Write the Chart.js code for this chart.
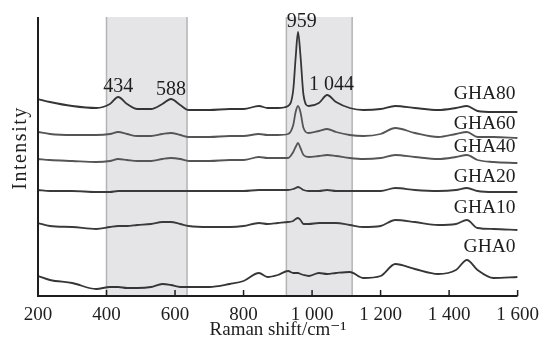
<!DOCTYPE html>
<html>
<head>
<meta charset="utf-8">
<script src="https://cdn.jsdelivr.net/npm/chart.js@4.4.1/dist/chart.umd.min.js"></script>
<style>
  html, body { margin: 0; padding: 0; background: #fff; }
  #wrap { width: 547px; height: 345px; }
</style>
</head>
<body>
<div id="wrap"><canvas id="raman"></canvas></div>
<script>
// Raman shift (cm-1)
var shifts = [200, 235, 300, 370, 410, 434, 460, 490, 530, 563, 588, 615, 640, 700, 760, 800, 845, 870, 900, 930,
              945, 952, 959, 966, 975, 990, 1020, 1044, 1070, 1110, 1150, 1200, 1243, 1300, 1368, 1420, 1452, 1483, 1530, 1600];

// intensités décalées (u.a.)
var gha80 = [197,194,190,188,192,199,192,187,187,192,197,191,186,186,187,187,190,188,188,190,
             206,238,264,241,201,190,193,201,194,188,186,187,190,188,186,188,190,185,184,184];
var gha60 = [164,162,161,161,162,164,162,160,160,162,163,161,159,159,160,160,162,161,161,162,
             171,184,190,184,168,163,165,167,164,161,160,162,168,163,159,162,164,159,159,158];
var gha40 = [137,136,135,134,135,137,136,135,135,137,138,137,135,135,136,136,139,138,138,138,
             144,149,153,148,141,139,140,141,140,138,137,138,141,139,137,139,141,136,134,133];
var gha20 = [106,105,105,104,104,105,105,105,105,105,105,105,105,105,105,105,106,106,106,106,
             107,108,109,108,106,105,105,106,105,105,105,105,108,106,105,106,108,105,104,104];
var gha10 = [73,70,69,67,69,70,70,71,72,74,74,72,70,69,69,70,73,72,73,74,
             75,77,78,76,72,72,73,73,73,71,69,70,76,74,71,72,76,68,67,66];
var gha0  = [20,16,13,7,9,9,8,8,9,12,11,9,9,9,12,15,23,19,21,25,
             23,23,23,22,21,20,23,22,23,24,18,20,32,27,22,26,36,26,18,19];

var seriesNames = ['GHA80', 'GHA60', 'GHA40', 'GHA20', 'GHA10', 'GHA0'];
var seriesData = [gha80, gha60, gha40, gha20, gha10, gha0];
var xTicks = [200, 400, 600, 800, 1000, 1200, 1400, 1600];

// zones grisées
var bandStart = [400, 925];
var bandEnd = [635, 1117];

// pics annotés
var peakText = ['434', '588', '959', '1 044'];
var peakX = [434, 588, 970, 1057];
var peakY = [209, 206, 274, 211];

// position des noms de série
var nameX = 1594;
var nameY = [202, 172, 149, 119, 88, 49];

var serif = '"Liberation Serif", "DejaVu Serif", serif';
var lineColors = ['#353535', '#555555', '#555555', '#3a3a3a', '#3a3a3a', '#353535'];

function fmt(v) {
    var s = String(v);
    return v >= 1000 ? s.slice(0, s.length - 3) + ' ' + s.slice(-3) : s;
}

var datasets = seriesNames.map(function (name, i) {
    return {
        label: name,
        data: shifts.map(function (x, j) { return { x: x, y: seriesData[i][j] }; }),
        borderColor: lineColors[i],
        borderWidth: 1.8,
        pointRadius: 0,
        fill: false,
        cubicInterpolationMode: 'monotone'
    };
});

// fond, axes et textes
var decor = {
    id: 'decor',
    beforeDatasetsDraw: function (chart) {
        var ctx = chart.ctx, a = chart.chartArea, xs = chart.scales.x;
        ctx.save();
        for (var i = 0; i < bandStart.length; i++) {
            var x0 = xs.getPixelForValue(bandStart[i]);
            var x1 = xs.getPixelForValue(bandEnd[i]);
            ctx.fillStyle = '#e5e5e7';
            ctx.fillRect(x0, a.top, x1 - x0, a.bottom - a.top);
            ctx.strokeStyle = '#b4b4b6';
            ctx.lineWidth = 1.5;
            ctx.beginPath();
            ctx.moveTo(x0, a.top); ctx.lineTo(x0, a.bottom);
            ctx.moveTo(x1, a.top); ctx.lineTo(x1, a.bottom);
            ctx.stroke();
        }
        ctx.restore();
    },
    afterDatasetsDraw: function (chart) {
        var ctx = chart.ctx, a = chart.chartArea, xs = chart.scales.x, ys = chart.scales.y;
        ctx.save();
        // axes
        ctx.strokeStyle = '#1e1e1e';
        ctx.lineWidth = 2;
        ctx.beginPath();
        ctx.moveTo(a.left, a.top);
        ctx.lineTo(a.left, a.bottom);
        ctx.lineTo(a.right, a.bottom);
        ctx.stroke();
        ctx.lineWidth = 1.5;
        ctx.beginPath();
        xTicks.forEach(function (t) {
            if (t === 200) return;
            var px = xs.getPixelForValue(t);
            ctx.moveTo(px, a.bottom);
            ctx.lineTo(px, a.bottom - 6);
        });
        ctx.stroke();

        ctx.fillStyle = '#1e1e1e';
        ctx.textBaseline = 'middle';
        ctx.textAlign = 'center';
        ctx.font = '20px ' + serif;
        peakText.forEach(function (t, i) {
            ctx.fillText(t, xs.getPixelForValue(peakX[i]), ys.getPixelForValue(peakY[i]));
        });
        ctx.textAlign = 'right';
        ctx.font = '19.5px ' + serif;
        seriesNames.forEach(function (n, i) {
            ctx.fillText(n, xs.getPixelForValue(nameX), ys.getPixelForValue(nameY[i]));
        });

        ctx.translate(21, 148);
        ctx.rotate(-Math.PI / 2);
        ctx.textAlign = 'center';
        ctx.font = '20px ' + serif;
        ctx.letterSpacing = '1.5px';
        ctx.fillText('Intensity', 0, 0);
        ctx.restore();
    }
};

var ramanChart = new Chart(document.getElementById('raman').getContext('2d'), {
    type: 'line',
    data: { datasets: datasets },
    options: {
        responsive: true,
        maintainAspectRatio: false,
        animation: false,
        layout: { padding: { left: 38, right: 27, top: 17, bottom: 0 } },
        plugins: { legend: { display: false }, tooltip: { enabled: false } },
        scales: {
            x: {
                type: 'linear',
                min: 200,
                max: 1600,
                afterBuildTicks: function (s) { s.ticks = xTicks.map(function (v) { return { value: v }; }); },
                afterFit: function (s) { s.height = 49; },
                grid: { display: false, drawTicks: false },
                border: { display: false },
                ticks: {
                    padding: 8,
                    color: '#1e1e1e',
                    font: { family: serif, size: 19 },
                    maxRotation: 0,
                    callback: function (v) { return fmt(v); }
                },
                title: {
                    display: true,
                    text: 'Raman shift/cm⁻¹',
                    color: '#1e1e1e',
                    font: { family: serif, size: 19 },
                    padding: { top: 0, bottom: 4 }
                }
            },
            y: {
                display: false,
                min: 0,
                max: 279
            }
        }
    },
    plugins: [decor]
});
</script>
</body>
</html>
